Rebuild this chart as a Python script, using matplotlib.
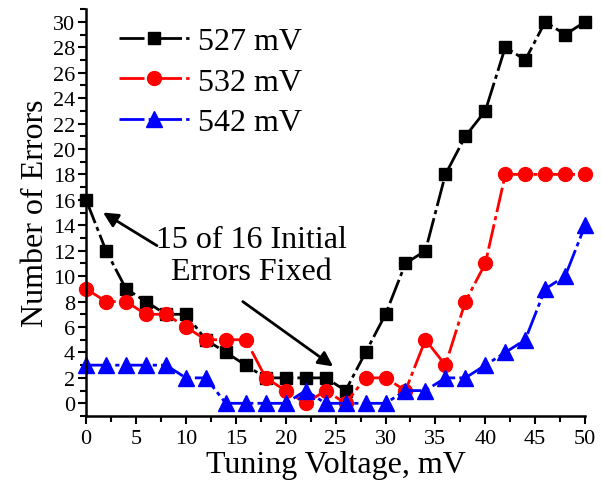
import matplotlib
matplotlib.use('Agg')
import matplotlib.pyplot as plt
from matplotlib.ticker import MultipleLocator

plt.rcParams['font.family'] = ['Liberation Serif', 'DejaVu Serif']

voltage = [0, 2, 4, 6, 8, 10, 12, 14, 16, 18, 20, 22, 24, 26,
           28, 30, 32, 34, 36, 38, 40, 42, 44, 46, 48, 50]
err_527 = [16, 12, 9, 8, 7, 7, 5, 4, 3, 2, 2, 2, 2, 1,
           4, 7, 11, 12, 18, 21, 23, 28, 27, 30, 29, 30]
err_532 = [9, 8, 8, 7, 7, 6, 5, 5, 5, 2, 1, 0, 1, 0,
           2, 2, 1, 5, 3, 8, 11, 18, 18, 18, 18, 18]
err_542 = [3, 3, 3, 3, 3, 2, 2, 0, 0, 0, 0, 1, 0, 0,
           0, 0, 1, 1, 2, 2, 3, 4, 5, 9, 10, 14]
labels = ['527 mV', '532 mV', '542 mV']

fig = plt.figure(figsize=(6.02, 4.81), dpi=100)
ax = fig.add_axes([0.143, 0.133, 0.829, 0.846])

ls = (0, (9, 1.5, 1.5, 1.5))
ax.plot(voltage, err_527, color='black', marker='s', ms=9, lw=2, ls=ls, label=labels[0], clip_on=False)
ax.plot(voltage, err_532, color='red', marker='o', ms=10, lw=2, ls=ls, label=labels[1], clip_on=False)
ax.plot(voltage, err_542, color='blue', marker='^', ms=11, lw=2, ls=ls, label=labels[2], clip_on=False)

ax.set_xlim(0, 50)
ax.set_ylim(-1, 31)
ax.xaxis.set_major_locator(MultipleLocator(5))
ax.xaxis.set_minor_locator(MultipleLocator(2.5))
ax.yaxis.set_major_locator(MultipleLocator(2))
ax.yaxis.set_minor_locator(MultipleLocator(1))
ax.tick_params(which='both', direction='out', width=1.5, labelsize=16)
ax.tick_params(which='major', length=6)
ax.tick_params(which='minor', length=4)
ax.tick_params(axis='y', pad=2)
ax.spines['top'].set_visible(False)
ax.spines['right'].set_visible(False)
ax.spines['left'].set_linewidth(1.8)
ax.spines['bottom'].set_linewidth(1.8)

ax.set_xlabel('Tuning Voltage, mV', fontsize=23, labelpad=1)
ax.set_ylabel('Number of Errors', fontsize=23, labelpad=2)

ax.legend(loc='upper left', bbox_to_anchor=(0.03, 1.0), frameon=False, fontsize=23,
          handlelength=2.2, handletextpad=0.3, labelspacing=0.35, borderaxespad=0.15)

ax.text(16.6, 11.6, '15 of 16 Initial\nErrors Fixed', fontsize=23, ha='center', va='center',
        linespacing=1.15)
arrow = dict(arrowstyle='-|>', color='black', lw=2, mutation_scale=22, shrinkA=0, shrinkB=0)
ax.annotate('', xy=(1.7, 15.0), xytext=(7.1, 12.4), arrowprops=arrow)
ax.annotate('', xy=(24.75, 2.9), xytext=(15.7, 8.0), arrowprops=arrow)

fig.savefig('out.png', dpi=100)
